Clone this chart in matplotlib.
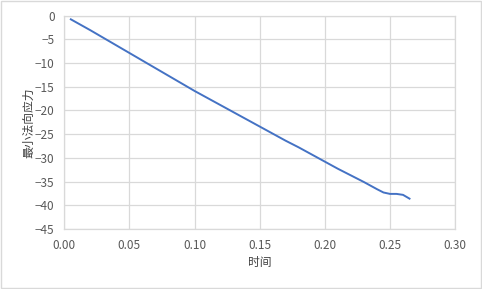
import matplotlib
matplotlib.use('Agg')
import matplotlib.pyplot as plt
from matplotlib.patches import Rectangle

plt.rcParams['font.family'] = ['Noto Sans CJK SC', 'DejaVu Sans']

# time vs minimum normal stress
time = [0.005, 0.02, 0.03, 0.04, 0.05, 0.06, 0.07, 0.08, 0.09, 0.10,
        0.11, 0.12, 0.13, 0.14, 0.15, 0.16, 0.17, 0.18, 0.19, 0.20,
        0.21, 0.22, 0.23, 0.24, 0.245, 0.25, 0.255, 0.26, 0.265]
stress = [-0.8, -3.1, -4.7, -6.3, -7.9, -9.5, -11.1, -12.7, -14.3, -15.9,
          -17.4, -18.9, -20.4, -21.9, -23.4, -24.9, -26.4, -27.8, -29.3, -30.8,
          -32.3, -33.7, -35.1, -36.6, -37.3, -37.6, -37.6, -37.8, -38.6]

xticks = [0.00, 0.05, 0.10, 0.15, 0.20, 0.25, 0.30]
yticks = [0, -5, -10, -15, -20, -25, -30, -35, -40, -45]

fig = plt.figure(figsize=(4.82, 2.89), dpi=100)
ax = fig.add_axes([0.1334, 0.2076, 0.8108, 0.7387])

ax.plot(time, stress, color='#4472C4', linewidth=1.4, solid_joinstyle='round')

ax.set_xlim(0, 0.30)
ax.set_ylim(-45, 0)
ax.set_xticks(xticks)
ax.set_xticklabels(['%.2f' % v for v in xticks])
ax.set_yticks(yticks)
ax.grid(True, color='#D9D9D9', linewidth=0.9)
ax.set_axisbelow(True)
for s in ax.spines.values():
    s.set_color('#D9D9D9')
    s.set_linewidth(0.9)
ax.tick_params(length=0, labelsize=8.5, labelcolor='#595959')
ax.tick_params(axis='y', pad=7)
ax.tick_params(axis='x', pad=7)

ax.set_xlabel('时间', fontsize=8.5, color='#404040', labelpad=3)
ax.set_ylabel('最小法向应力', fontsize=8.5, color='#404040', labelpad=0)

# chart border
fig.patches.append(Rectangle((0.002, 0.003), 0.995, 0.994, transform=fig.transFigure,
                             fill=False, edgecolor='#D9D9D9', linewidth=1))

fig.savefig('out.png', dpi=100)
